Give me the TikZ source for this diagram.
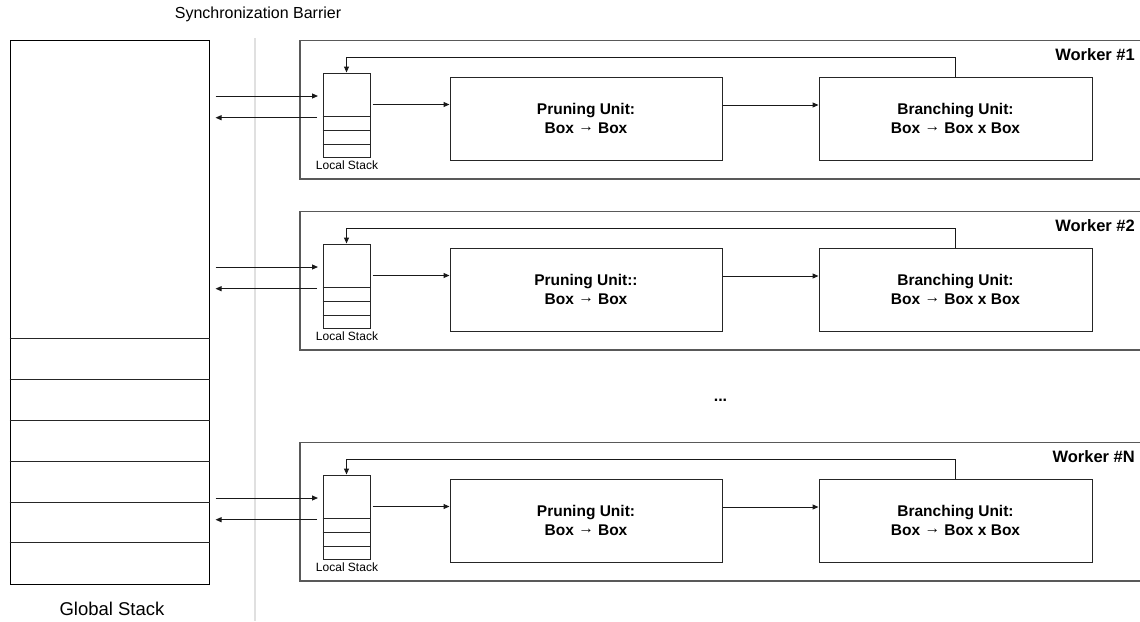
\documentclass[tikz,border=0pt]{standalone}
\usepackage{fontspec}
\setmainfont{Liberation Sans}
\usetikzlibrary{arrows.meta}
\newcommand{\maparrow}{\raisebox{2pt}{→}}
\tikzset{
  unitbox/.style={draw=black!85, line width=1pt, minimum height=83pt, inner sep=0pt, align=center,
    font=\fontsize{15.5}{18.3}\selectfont\bfseries},
  lstack/.style={draw=black!85, line width=1pt, minimum width=47pt, minimum height=84pt, inner sep=0pt},
  gstack/.style={draw=black, line width=1pt, minimum width=199pt, minimum height=544pt, inner sep=0pt},
  wbox/.style={draw=black!65, line width=1.4pt},
  arr/.style={-{Triangle[length=6pt,width=5pt]}, line width=1pt, black!90},
  thinline/.style={line width=1pt, black!85},
  wlab/.style={font=\fontsize{16.5}{19}\selectfont\bfseries, inner sep=0pt},
  smalllab/.style={font=\fontsize{12}{14}\selectfont, inner sep=0pt},
  biglab/.style={font=\fontsize{18.5}{22}\selectfont, inner sep=0pt},
  toplab/.style={font=\fontsize{16}{19}\selectfont, inner sep=0pt},
}
\begin{document}
\begin{tikzpicture}[x=1pt,y=-1pt]
\useasboundingbox (0,0) rectangle (1140,621);
% barrier
\coordinate (bartop) at (255,38);
\coordinate (barbot) at (255,621);
\draw[line width=1.2pt, black!12] (bartop) -- (barbot);
\node[toplab, anchor=base] (barlab) at (258,19) {Synchronization Barrier};
% global stack
\node[gstack] (gs) at (109.5,312) {};
\foreach \yy in {338,379.3,420.7,461.7,502.7,542.7}
  \draw[thinline] (gs.west |- 0,\yy) -- (gs.east |- 0,\yy);
\node[biglab, anchor=base] (gslab) at (112,615) {Global Stack};
% workers
\foreach \dy/\lab/\pu [count=\i] in {0/1/{Pruning Unit:},171/2/{Pruning Unit::},402/N/{Pruning Unit:}}{
  \draw[wbox] (1141,40.7+\dy) -- (300,40.7+\dy) -- (300,179+\dy) -- (1141,179+\dy);
  \node[wlab, anchor=base east] (wl\i) at (1135,60+\dy) {Worker \#\lab};
  \node[lstack] (ls\i) at (346.5,115+\dy) {};
  \foreach \yy in {116,130.3,144.3}
    \draw[thinline] (ls\i.west |- 0,\yy+\dy) -- (ls\i.east |- 0,\yy+\dy);
  \node[smalllab, anchor=base] (lsl\i) at (347,169+\dy) {Local Stack};
  \node[unitbox, minimum width=272pt] (pr\i) at (586,118.5+\dy) {\pu\\Box \maparrow\ Box};
  \node[unitbox, minimum width=273pt] (br\i) at (955.5,118.5+\dy) {Branching Unit:\\Box \maparrow\ Box x Box};
  \coordinate (in\i) at (318,96+\dy);
  \coordinate (out\i) at (317,117.7+\dy);
  \draw[arr] ([xshift=6pt]gs.east |- in\i) -- (in\i);
  \draw[arr] (out\i) -- ([xshift=6pt]gs.east |- out\i);
  \draw[arr] ([xshift=2pt,yshift=10.5pt]ls\i.east) -- ([yshift=10.5pt]ls\i.east -| pr\i.west);
  \draw[arr] ([yshift=13.5pt]pr\i.east) -- ([yshift=13.5pt]pr\i.east -| br\i.west);
  \draw[arr] (br\i.north) -- ++(0,-19) -| (ls\i.north);
}
\node[font=\fontsize{16}{19}\selectfont\bfseries, inner sep=0pt, anchor=base] (dots) at (720.5,401) {...};
\end{tikzpicture}
\end{document}
